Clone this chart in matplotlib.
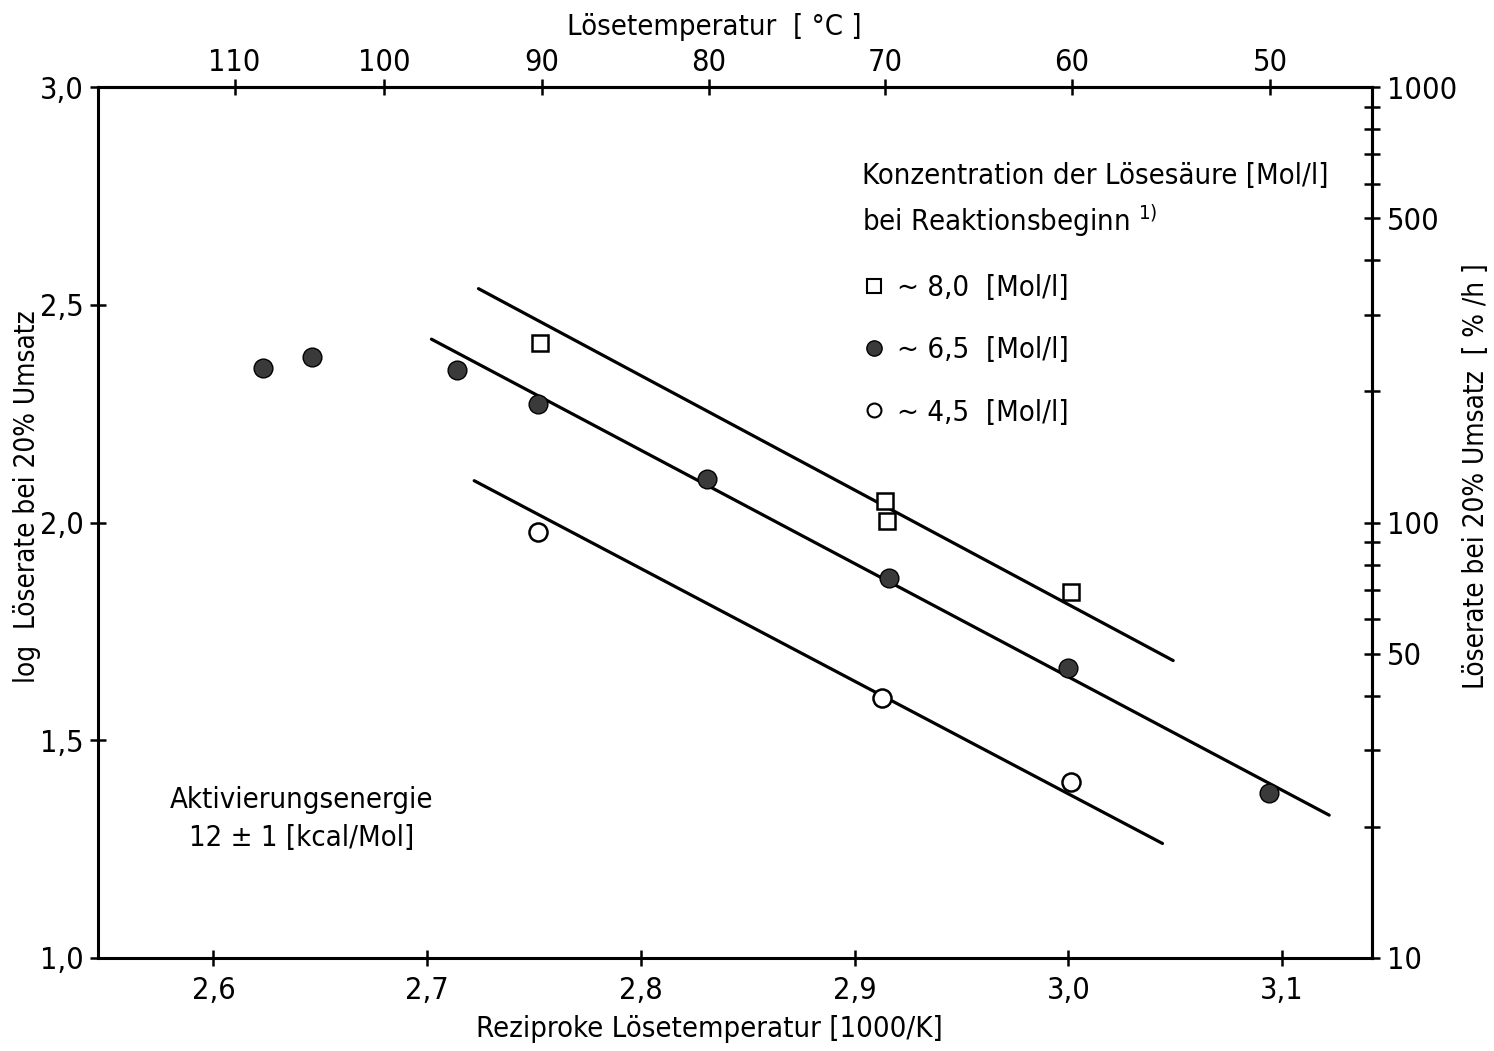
"""
Loeserate vs. reziproke Loesetemperatur (Arrhenius-Auftragung) -> out.png
"""
import numpy as np
import matplotlib
matplotlib.use("Agg")
import matplotlib.pyplot as plt
from matplotlib import font_manager
from matplotlib.lines import Line2D

# --- data -------------------------------------------------------------------
# ~8,0 Mol/l (open squares)
x_80 = [2.753, 2.914, 2.915, 3.001]
y_80 = [2.412, 2.049, 2.004, 1.840]
# ~6,5 Mol/l (filled circles)
x_65 = [2.623, 2.646, 2.714, 2.752, 2.831, 2.916, 3.000, 3.094]
y_65 = [2.354, 2.381, 2.350, 2.271, 2.100, 1.873, 1.666, 1.380]
# ~4,5 Mol/l (open circles)
x_45 = [2.752, 2.913, 3.001]
y_45 = [1.978, 1.597, 1.403]

# drawn straight lines (end points)
fit_x_80 = [2.724, 3.049]; fit_y_80 = [2.537, 1.683]
fit_x_65 = [2.702, 3.122]; fit_y_65 = [2.421, 1.328]
fit_x_45 = [2.722, 3.044]; fit_y_45 = [2.096, 1.263]

x_ticks = [2.6, 2.7, 2.8, 2.9, 3.0, 3.1]
y_ticks = [1.0, 1.5, 2.0, 2.5, 3.0]
temp_ticks = [110, 100, 90, 80, 70, 60, 50]
rate_ticks = [10, 50, 100, 500, 1000]
rate_minor = [20, 30, 40, 60, 70, 80, 90, 200, 300, 400, 600, 700, 800, 900]

labels = ["~ 8,0  [Mol/l]", "~ 6,5  [Mol/l]", "~ 4,5  [Mol/l]"]

# --- font: a narrow sans is closest to the DIN lettering --------------------
names = {f.name for f in font_manager.fontManager.ttflist}
if "Liberation Sans Narrow" in names:
    FONT = {"family": "Liberation Sans Narrow"}
else:
    FONT = {"family": "DejaVu Sans", "stretch": "condensed"}
plt.rcParams["font.family"] = FONT["family"]
if "stretch" in FONT:
    plt.rcParams["font.stretch"] = FONT["stretch"]

FS = 21      # texts
FT = 22      # tick labels
FA = 20      # side axis titles
K = "black"
FILL = "#3a3a3a"


def comma(v, nd=1):
    return f"{v:.{nd}f}".replace(".", ",")


fig = plt.figure(figsize=(14.94, 10.51), dpi=100)
ax = fig.add_axes([0.0656, 0.0885, 0.8527, 0.8287])
ax.set_xlim(2.546, 3.142)
ax.set_ylim(1.0, 3.0)

# lines
for fx, fy in [(fit_x_80, fit_y_80), (fit_x_65, fit_y_65), (fit_x_45, fit_y_45)]:
    ax.plot(fx, fy, color=K, lw=2.3, solid_capstyle="round", zorder=2)

# points
ax.plot(x_80, y_80, ls="none", marker="s", ms=12, mfc="white", mec=K, mew=1.8, zorder=3)
ax.plot(x_65, y_65, ls="none", marker="o", ms=13.5, mfc=FILL, mec=K, mew=1.0, zorder=3)
ax.plot(x_45, y_45, ls="none", marker="o", ms=13, mfc="white", mec=K, mew=1.8, zorder=3)

# axes styling
for s in ax.spines.values():
    s.set_linewidth(2.2)
ax.set_xticks(x_ticks)
ax.set_xticklabels([comma(v) for v in x_ticks])
ax.set_yticks(y_ticks)
ax.set_yticklabels([comma(v) for v in y_ticks])
ax.tick_params(direction="inout", length=12, width=1.8, labelsize=FT, pad=4)
ax.tick_params(axis="x", pad=7)

ax.set_xlabel("Reziproke Lösetemperatur [1000/K]", fontsize=FS)
ax.xaxis.set_label_coords(0.48, -0.066)
ax.text(-0.056, 0.53, "log  Löserate bei 20% Umsatz", transform=ax.transAxes,
        ha="center", va="center", rotation=90, fontsize=FA)

# top axis: temperature in deg C
top = ax.secondary_xaxis("top", functions=(lambda x: 1000.0 / np.clip(x, 1e-6, None) - 273.15,
                                           lambda t: 1000.0 / (np.asarray(t) + 273.15)))
top.set_xticks(temp_ticks)
top.set_xticklabels([str(t) for t in temp_ticks])
top.tick_params(direction="inout", length=12, width=1.8, labelsize=FT, pad=1)
top.spines["top"].set_linewidth(2.2)
ax.text(0.4835, 1.069, "Lösetemperatur  [ °C ]", transform=ax.transAxes,
        ha="center", va="center", fontsize=FS)

# right axis: rate in %/h (log)
right = ax.secondary_yaxis("right", functions=(lambda y: 10.0 ** y,
                                               lambda r: np.log10(np.clip(r, 1e-9, None))))
right.set_yticks(rate_ticks)
right.set_yticklabels([str(r) for r in rate_ticks])
right.set_yticks(rate_minor, minor=True)
right.tick_params(which="both", direction="inout", length=12, width=1.8, labelsize=FT, pad=5)
right.spines["right"].set_linewidth(2.2)
ax.text(1.082, 0.553, "Löserate bei 20% Umsatz  [ % /h ]", transform=ax.transAxes,
        ha="center", va="center", rotation=90, fontsize=FA)

# legend block
handles = [
    Line2D([], [], ls="none", marker="s", ms=10, mfc="white", mec=K, mew=1.5),
    Line2D([], [], ls="none", marker="o", ms=11, mfc=FILL, mec=K, mew=1.0),
    Line2D([], [], ls="none", marker="o", ms=10, mfc="white", mec=K, mew=1.5),
]
leg = ax.legend(handles, labels, title="Konzentration der Lösesäure [Mol/l]\nbei Reaktionsbeginn $^{1)}$",
                loc="upper left", bbox_to_anchor=(0.600, 0.914), frameon=False, fontsize=FS,
                title_fontsize=FS, alignment="left", handlelength=0.8, handletextpad=0.4,
                labelspacing=1.18, borderpad=0.0, borderaxespad=0.0)
leg.get_title().set_linespacing(1.45)

ax.text(0.16, 0.16, "Aktivierungsenergie\n12 ± 1 [kcal/Mol]", transform=ax.transAxes,
        ha="center", va="center", fontsize=FS, linespacing=1.45)

fig.savefig("out.png", dpi=100)
